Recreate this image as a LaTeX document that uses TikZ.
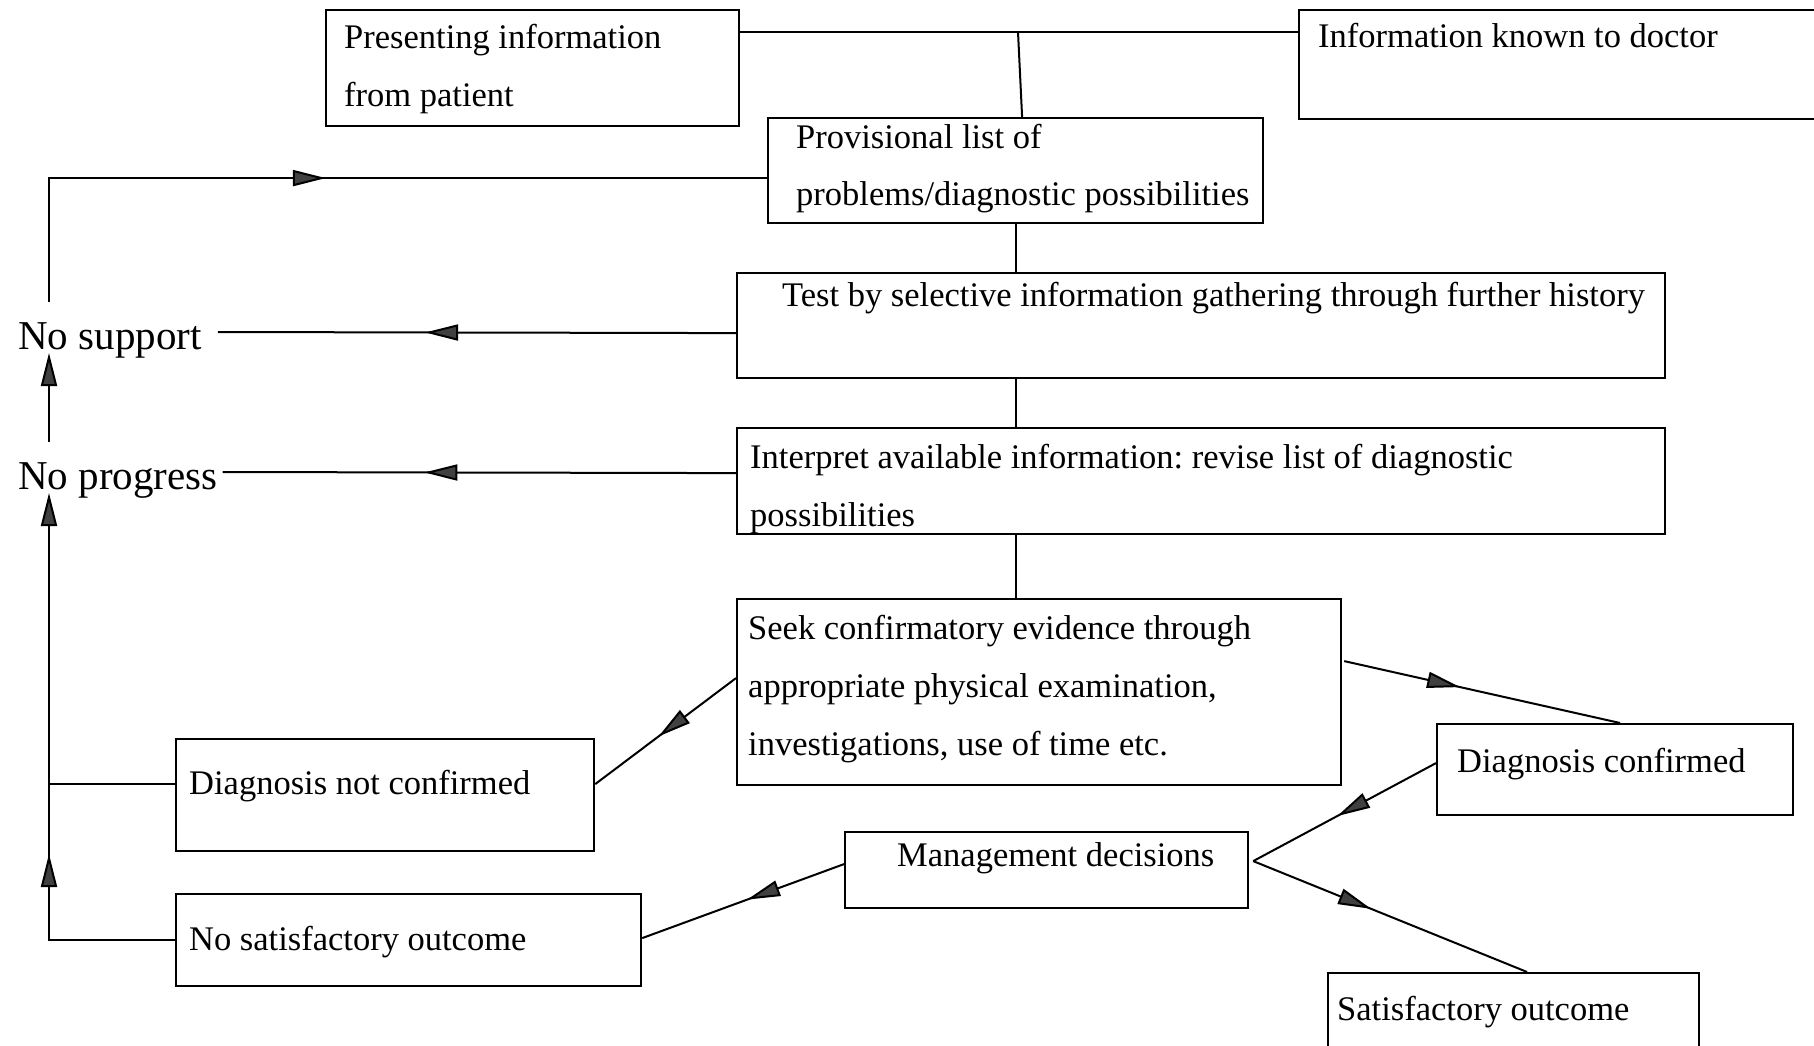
\documentclass[tikz,border=0pt]{standalone}
\usepackage{fontspec}
\setmainfont{Liberation Serif}
\usetikzlibrary{arrows.meta,decorations.markings,calc}
\definecolor{tipgray}{RGB}{64,64,64}
\newcommand{\boxfont}{\fontsize{34.5}{58}\selectfont\frenchspacing}
\newcommand{\lblfont}{\fontsize{41}{48}\selectfont}
\tikzset{
  box/.style={draw, line width=2.2pt, rectangle, inner sep=0pt, anchor=north west},
  txt/.style={anchor=base west, inner sep=0pt, font=\boxfont},
  mtxt/.style={txt, text width=900pt, align=flush left},
  lbl/.style={anchor=base west, inner sep=0pt, font=\lblfont},
  conn/.style={line width=2pt},
  tip/.style={-{Triangle[length=33pt,width=16pt,fill=tipgray]}},
  midarrow/.style={postaction={decorate}, decoration={markings,
      mark=at position #1 with {\arrow{Triangle[length=33pt,width=16pt,fill=tipgray]}}}}
}
\begin{document}
\begin{tikzpicture}[x=1pt, y=-1pt]
\useasboundingbox (0,0) rectangle (1814,1046);
\clip (0,0) rectangle (1814,1046);

% boxes
\node[box, minimum width=413pt, minimum height=116pt] (A) at (325,9) {};
\node[box, minimum width=560pt, minimum height=109pt] (B) at (1298,9) {};
\node[box, minimum width=495pt, minimum height=105pt] (C) at (767,117) {};
\node[box, minimum width=928pt, minimum height=105pt] (D) at (736,272) {};
\node[box, minimum width=928pt, minimum height=106pt] (E) at (736,427) {};
\node[box, minimum width=604pt, minimum height=186pt] (F) at (736,598) {};
\node[box, minimum width=356pt, minimum height=91pt] (G) at (1436,723) {};
\node[box, minimum width=403pt, minimum height=76pt] (H) at (844,831) {};
\node[box, minimum width=371pt, minimum height=98pt] (I) at (1327,972) {};
\node[box, minimum width=418pt, minimum height=112pt] (J) at (175,738) {};
\node[box, minimum width=465pt, minimum height=92pt] (K) at (175,893) {};

% box texts
\node[mtxt] (At) at (344,49) {Presenting information\\from patient};
\node[txt] (Bt) at (1318,48) {Information known to doctor};
\node[mtxt] (Ct) at (796,148) {Provisional list of\\problems/diagnostic possibilities};
\node[txt] (Dt) at (782,306) {Test by selective information gathering through further history};
\node[mtxt] (Et) at (750,468) {Interpret available information: revise list of diagnostic\\possibilities};
\node[mtxt] (Ft) at (748,639) {Seek confirmatory evidence through\\appropriate physical examination,\\investigations, use of time etc.};
\node[txt] (Gt) at (1457,772) {Diagnosis confirmed};
\node[txt] (Ht) at (897,866) {Management decisions};
\node[txt] (It) at (1337,1020) {Satisfactory outcome};
\node[txt] (Jt) at (189,794) {Diagnosis not confirmed};
\node[txt] (Kt) at (189,950) {No satisfactory outcome};

% side labels
\node[lbl] (nsup) at (18,349) {No support};
\node[lbl] (nprog) at (18,489) {No progress};

% spine coordinates on the left
\coordinate (supTop) at (49,302);
\coordinate (supBot) at (49,353);
\coordinate (progTop) at (49,442);
\coordinate (progBot) at (49,493);
\coordinate (join) at (1018,32);

% top connectors
\draw[conn] ($(A.north east)+(0,23)$) -- ($(B.north west)+(0,23)$);
\draw[conn] (join) -- ($(C.north)+(6.5,0)$);
\draw[conn] (C.south) -- (C.south |- D.north);
\draw[conn] (D.south -| C.south) -- (E.north -| C.south);
\draw[conn] (E.south -| C.south) -- (F.north -| C.south);

% feedback to the left
\draw[conn, midarrow=0.6] ($(D.west)+(0,7.5)$) -- ($(nsup.base east)+(16,-17)$);
\draw[conn, midarrow=0.607] ($(E.west)+(0,-8)$) -- ($(nprog.base east)+(5,-17)$);
\draw[conn, tip] (progTop) -- (supBot);
\draw[conn, midarrow=0.476] (supTop) |- ($(C.west)+(0,7.5)$);
\draw[conn, tip, midarrow=0.37] (K.west) -| (progBot);
\draw[conn] ($(J.west)+(0,-11)$) -- ++(-126,0);

% diagonal connectors
\draw[conn, midarrow=0.55] ($(F.west)+(0,-14)$) -- ($(J.east)+(0,-11)$);
\draw[conn, midarrow=0.42] ($(F.east)+(2,-31)$) -- ($(G.north)+(5,0)$);
\draw[conn, midarrow=0.54] ($(G.west)+(0,-6.5)$) -- ($(H.east)+(4,-9)$);
\draw[conn, midarrow=0.43] ($(H.east)+(4,-9)$) -- ($(I.north)+(13.5,0)$);
\draw[conn, midarrow=0.48] ($(H.west)+(0,-6)$) -- ($(K.east)+(0,-2)$);
\end{tikzpicture}
\end{document}
